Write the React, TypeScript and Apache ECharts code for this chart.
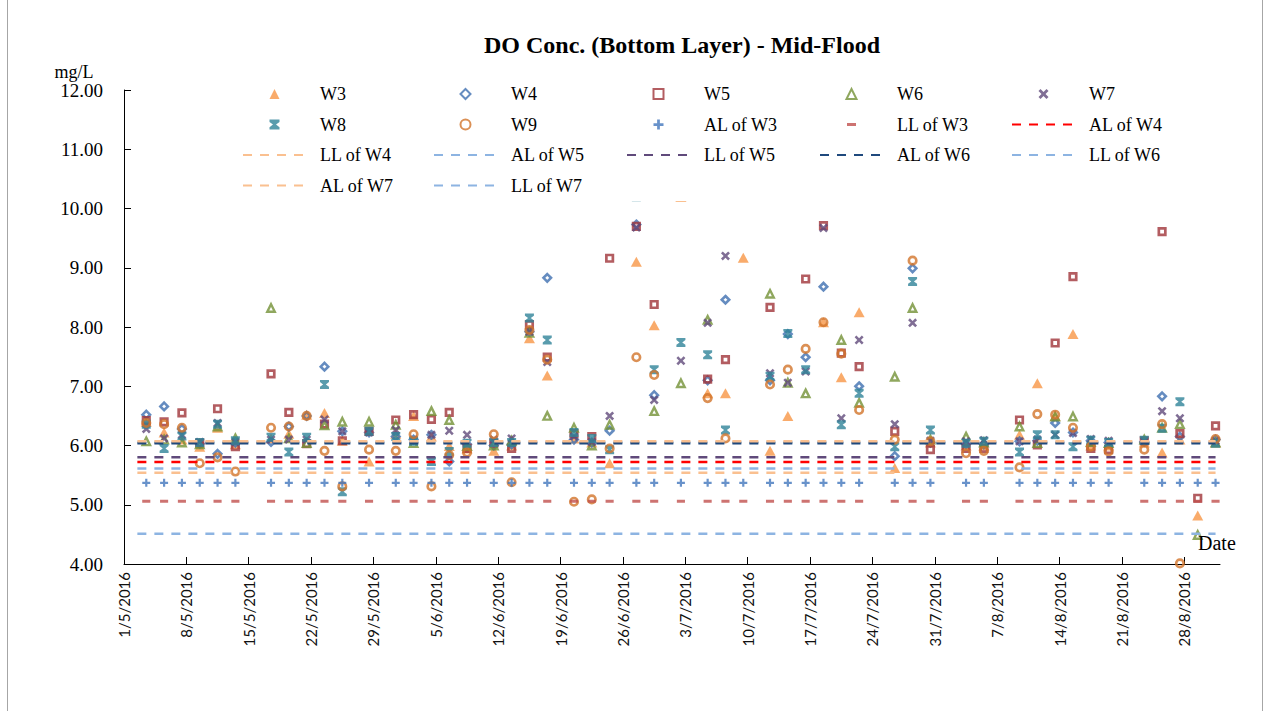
import React, { useEffect, useRef } from "react";
import * as echarts from "echarts";

// ---------- DATA ----------
const sampleDates = [
  "3/5/2016", "5/5/2016", "7/5/2016", "9/5/2016", "11/5/2016", "13/5/2016", "17/5/2016",
  "19/5/2016", "21/5/2016", "23/5/2016", "25/5/2016", "28/5/2016", "31/5/2016", "2/6/2016",
  "4/6/2016", "6/6/2016", "8/6/2016", "11/6/2016", "13/6/2016", "15/6/2016", "17/6/2016",
  "20/6/2016", "22/6/2016", "24/6/2016", "27/6/2016", "29/6/2016", "2/7/2016", "5/7/2016",
  "7/7/2016", "9/7/2016", "12/7/2016", "14/7/2016", "16/7/2016", "18/7/2016", "20/7/2016",
  "22/7/2016", "26/7/2016", "28/7/2016", "30/7/2016", "3/8/2016", "5/8/2016", "9/8/2016",
  "11/8/2016", "13/8/2016", "15/8/2016", "17/8/2016", "19/8/2016", "23/8/2016", "25/8/2016",
  "27/8/2016", "29/8/2016", "31/8/2016",
];

const w3 = [6.40, 6.22, 6.10, 5.98, 6.30, 6.02, 6.12, 6.20, 6.52, 6.55, 6.08, 5.73, 6.20, 6.50,
  6.15, 5.99, 5.95, 5.91, 6.00, 7.81, 7.18, 6.12, 6.05, 5.70, 9.10, 8.03, 10.2, 6.88,
  6.88, 9.17, 5.91, 6.50, null, 8.08, 7.15, 8.25, 5.62, null, 6.05, 6.00, 6.00, 6.18,
  7.05, 6.50, 7.88, 6.00, 6.00, 6.05, 5.88, 6.10, 4.82, 6.05];
const w4 = [6.52, 6.66, 6.28, 6.03, 5.86, 6.05, 6.06, 6.32, 6.50, 7.33, 6.24, 6.22, 6.15, 6.10,
  6.18, 5.73, 6.02, 6.00, 6.02, 7.92, 8.83, 6.10, 6.05, 6.25, 9.73, 6.85, null, 7.10,
  8.46, null, 7.10, 7.88, 7.49, 8.68, null, 7.00, 5.82, 8.99, 6.05, 6.02, 6.02, 6.07,
  6.08, 6.38, 6.22, 6.08, 6.05, 6.06, 6.83, 6.15, null, 6.10];
const w5 = [6.42, 6.40, 6.55, 6.04, 6.62, 5.98, 7.21, 6.56, 6.03, 6.36, 6.08, 6.24, 6.43, 6.52,
  6.44, 6.56, 5.95, 6.04, 5.95, 8.04, 7.49, 6.20, 6.15, 9.16, 9.70, 8.38, null, 7.12,
  7.45, null, 8.33, null, 8.81, 9.71, 7.56, 7.33, 6.24, null, 5.93, 5.95, 5.95, 6.43,
  6.01, 7.73, 8.85, 5.95, 5.93, 6.08, 9.61, 6.20, 5.11, 6.33];
const w6 = [6.07, 6.10, 6.05, 6.02, 6.32, 6.12, 8.32, 6.12, 6.04, 6.34, 6.40, 6.40, 6.35, 6.04,
  6.58, 6.43, 5.99, 6.00, 6.08, 7.90, 6.50, 6.30, 6.00, 6.35, null, 6.58, 7.05, 8.12,
  null, null, 8.56, 7.06, 6.88, null, 7.78, 6.72, 7.16, 8.32, 6.10, 6.15, 6.05, 6.32,
  6.04, 6.49, 6.49, 6.06, 6.04, 6.10, 6.30, 6.36, 4.49, 6.05];
const w7 = [6.28, 6.12, 6.18, 6.06, 6.38, 6.06, 6.10, 6.10, 6.10, 6.44, 6.24, 6.22, 6.26, 6.10,
  6.18, 6.25, 6.18, 6.10, 6.12, 7.92, 7.41, 6.15, 6.06, 6.50, 9.68, 6.77, 7.43, 8.07,
  9.20, null, 7.22, 7.06, 7.25, 9.67, 6.46, 7.78, 6.36, 8.07, 6.08, 6.07, 6.09, 6.07,
  6.10, 6.18, 6.21, 6.11, 6.08, 6.07, 6.58, 6.46, null, 6.08];
const w8 = [6.36, 5.95, 6.16, 6.05, 6.36, 6.08, 6.14, 5.89, 6.14, 7.03, 5.22, 6.24, 6.15, 6.07,
  5.73, 5.90, 6.04, 6.05, 6.05, 8.15, 7.78, 6.22, 6.12, 5.93, 10.2, 7.28, 7.74, 7.53,
  6.26, null, 7.17, 7.89, 7.28, null, 6.35, 6.88, 5.98, 8.77, 6.26, 6.04, 6.07, 5.89,
  6.18, 6.18, 5.98, 6.09, 6.05, 6.09, 6.29, 6.74, null, 6.04];
const w9 = [6.38, 6.36, 6.30, 5.70, 5.80, 5.56, 6.30, 6.32, 6.50, 5.91, 5.31, 5.93, 5.91, 6.19,
  5.31, 5.84, 5.88, 6.19, 5.38, 7.95, 7.45, 5.05, 5.09, 5.95, 7.49, 7.19, null, 6.80,
  6.12, null, 7.03, 7.28, 7.63, 8.08, 7.55, 6.60, 6.10, 9.12, 6.07, 5.87, 5.91, 5.63,
  6.53, 6.52, 6.30, 5.98, 5.90, 5.93, 6.36, 4.01, null, 6.11];

// limit levels (mg/L)
const alW3 = 5.37;
const llW3 = 5.06;
const limitNames = ["AL of W4", "LL of W4", "AL of W5", "LL of W5", "AL of W6", "LL of W6", "AL of W7", "LL of W7"];
const limitValues = [5.72, 5.54, 6.055, 5.80, 6.04, 5.61, 6.07, 4.51];
const limitColors = ["#ff0000", "#fac090", "#8db4e2", "#604a7b", "#1f497d", "#8db4e2", "#fac090", "#8db4e2"];
const limitSpan = ["2/5/2016", "31/8/2016"];

const tickDates = [
  "1/5/2016", "8/5/2016", "15/5/2016", "22/5/2016", "29/5/2016", "5/6/2016", "12/6/2016",
  "19/6/2016", "26/6/2016", "3/7/2016", "10/7/2016", "17/7/2016", "24/7/2016", "31/7/2016",
  "7/8/2016", "14/8/2016", "21/8/2016", "28/8/2016",
];
const axisStart = "1/5/2016";
const axisEnd = "1/9/2016";

const yTicks = { min: 4, max: 12, step: 1 };

const legendCols = [
  ["W3", "W8", "LL of W4", "AL of W7"],
  ["W4", "W9", "AL of W5", "LL of W7"],
  ["W5", "AL of W3", "LL of W5"],
  ["W6", "LL of W3", "AL of W6"],
  ["W7", "AL of W4", "LL of W6"],
];

// ---------- helpers ----------
function dayOf(s: string): number {
  const [d, m, y] = s.split("/").map(Number);
  const [d0, m0, y0] = axisStart.split("/").map(Number);
  return (Date.UTC(y, m - 1, d) - Date.UTC(y0, m0 - 1, d0)) / 86400000;
}
// Excel date axis places each date in the middle of its day slot
const slot = (s: string) => dayOf(s) + 0.5;

const SYM_TRI = "path://M5,0L10,10H0Z";
const SYM_DIAMOND = "path://M5,0L10,5L5,10L0,5Z";
const SYM_SQUARE = "path://M0,0H10V10H0Z";
const SYM_CIRCLE = "path://M0,5A5,5,0,1,1,10,5A5,5,0,1,1,0,5Z";
const SYM_X = "path://M0,1.6L1.6,0L4,2.4L6.4,0L8,1.6L5.6,4L8,6.4L6.4,8L4,5.6L1.6,8L0,6.4L2.4,4Z";
const SYM_STAR = "path://M0,0H8V1.9L5.2,4L8,6.1V8H0V6.1L2.8,4L0,1.9Z";
const SYM_PLUS = "path://M2.9,0H5.1V2.9H8V5.1H5.1V8H2.9V5.1H0V2.9H2.9Z";
const SYM_DASH = "path://M0,0L0.01,0M0.5,3.4H9.5V6.6H0.5ZM10,10L9.99,10";

const SERIF = "'Liberation Serif', 'Times New Roman', serif";

function scatter(name: string, vals: (number | null)[], symbol: string, size: any, style: any) {
  const data: number[][] = [];
  sampleDates.forEach((d, i) => {
    const v = vals[i];
    if (v !== null && v !== undefined) data.push([slot(d), v]);
  });
  return {
    name,
    type: "scatter",
    symbol,
    symbolSize: size,
    itemStyle: style,
    data,
    silent: true,
  };
}

export default function App() {
  const ref = useRef<HTMLDivElement>(null);

  useEffect(() => {
    document.body.style.margin = "0";
    const chart = echarts.init(ref.current!, null, { renderer: "svg" });

    const tickVals = tickDates.map(dayOf);
    const fmtTick = (v: number) => {
      const i = tickVals.indexOf(v);
      return i >= 0 ? tickDates[i] : "";
    };

    const series: any[] = [
      scatter("W3", w3, SYM_TRI, [11, 10], { color: "#f79646" }),
      scatter("W4", w4, SYM_DIAMOND, 7.5, { color: "transparent", borderColor: "#3f6fb0", borderWidth: 2.6 }),
      scatter("W5", w5, SYM_SQUARE, 6.5, { color: "transparent", borderColor: "#a0343a", borderWidth: 2.7 }),
      scatter("W6", w6, SYM_TRI, 7.5, { color: "transparent", borderColor: "#739136", borderWidth: 2.4 }),
      scatter("W7", w7, SYM_X, 9, { color: "#604a7b" }),
      scatter("W8", w8, SYM_STAR, 9, { color: "#2f8399" }),
      scatter("W9", w9, SYM_CIRCLE, 7.5, { color: "transparent", borderColor: "#d2742a", borderWidth: 2.6 }),
      {
        name: "AL of W3",
        type: "scatter",
        symbol: SYM_PLUS,
        symbolSize: 8,
        itemStyle: { color: "#4277bd" },
        data: sampleDates.map((d) => [slot(d), alW3]),
        silent: true,
      },
      {
        name: "LL of W3",
        type: "scatter",
        symbol: SYM_DASH,
        symbolSize: 9,
        itemStyle: { color: "#c0504d" },
        data: sampleDates.map((d) => [slot(d), llW3]),
        silent: true,
      },
    ];
    limitNames.forEach((n, i) => {
      series.push({
        name: n,
        type: "line",
        symbol: "none",
        silent: true,
        lineStyle: { color: limitColors[i], width: 2.5, type: [9, 8] },
        itemStyle: { color: "transparent", borderColor: "transparent", borderWidth: 0 },
        data: limitSpan.map((d) => [slot(d), limitValues[i]]),
      });
    });

    const legendLeft = [242, 433, 626, 819, 1011];
    const legend = legendCols.map((col, i) => ({
      orient: "vertical",
      left: legendLeft[i],
      top: 85,
      padding: 0,
      itemWidth: 63,
      itemHeight: 10,
      itemGap: 12.5,
      selectedMode: false,
      data: col,
      textStyle: {
        fontFamily: SERIF,
        fontSize: 18,
        color: "#000",
        lineHeight: 18,
        padding: [0, 0, 0, 9],
      },
    }));

    const option: any = {
      animation: false,
      backgroundColor: "#fff",
      grid: { left: 124, top: 90, width: 1096, height: 474 },
      legend,
      xAxis: {
        type: "value",
        min: 0,
        max: dayOf(axisEnd),
        interval: 7,
        splitLine: { show: false },
        axisLine: { onZero: false, lineStyle: { color: "#000", width: 1 } },
        axisTick: { inside: true, length: 7, lineStyle: { color: "#000" }, customValues: tickVals },
        axisLabel: {
          rotate: 90,
          margin: 8,
          fontFamily: "Lato",
          fontSize: 15,
          color: "#111",
          customValues: tickVals,
          formatter: fmtTick,
        },
      },
      yAxis: {
        type: "value",
        min: yTicks.min,
        max: yTicks.max,
        interval: yTicks.step,
        splitLine: { show: false },
        axisLine: { show: true, lineStyle: { color: "#000", width: 1 } },
        axisTick: { show: true, inside: true, length: 7, lineStyle: { color: "#000" } },
        axisLabel: {
          formatter: (v: number) => v.toFixed(2),
          fontFamily: SERIF,
          fontSize: 19,
          color: "#000",
          margin: 21,
        },
      },
      graphic: [
        {
          type: "rect",
          z: 3,
          shape: { x: 232, y: 78, width: 960, height: 123 },
          style: { fill: "#fff" },
          silent: true,
        },
        {
          type: "text",
          z: 5,
          x: 682,
          y: 45,
          style: {
            text: "DO Conc. (Bottom Layer) - Mid-Flood",
            font: `bold 24px ${SERIF}`,
            fill: "#000",
            textAlign: "center",
            textVerticalAlign: "middle",
          },
        },
        {
          type: "text",
          z: 5,
          x: 74,
          y: 72,
          style: {
            text: "mg/L",
            font: `18px ${SERIF}`,
            fill: "#000",
            textAlign: "center",
            textVerticalAlign: "middle",
          },
        },
        {
          type: "text",
          z: 5,
          x: 1198,
          y: 543,
          style: {
            text: "Date",
            font: `20px ${SERIF}`,
            fill: "#000",
            textAlign: "left",
            textVerticalAlign: "middle",
          },
        },
        {
          type: "line",
          shape: { x1: 7.5, y1: 0, x2: 7.5, y2: 711 },
          style: { stroke: "#a6a6a6", lineWidth: 1 },
          silent: true,
        },
        {
          type: "line",
          shape: { x1: 1262.5, y1: 0, x2: 1262.5, y2: 711 },
          style: { stroke: "#a6a6a6", lineWidth: 1 },
          silent: true,
        },
      ],
      series,
    };

    chart.setOption(option);
    return () => chart.dispose();
  }, []);

  return <div ref={ref} style={{ width: 1268, height: 711 }} />;
}
